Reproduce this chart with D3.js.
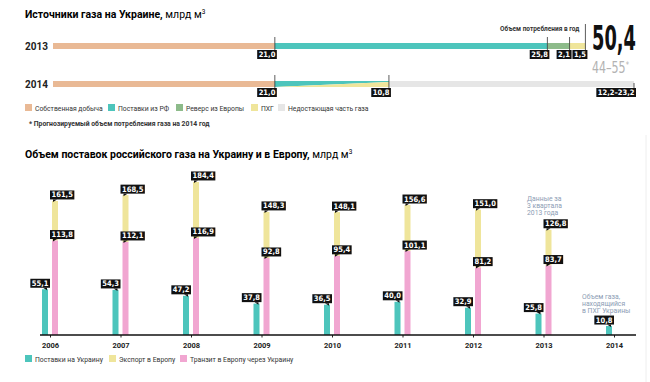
<!DOCTYPE html>
<html lang="ru">
<head>
<meta charset="utf-8">
<title>Газ Украины</title>
<script src="https://d3js.org/d3.v7.min.js"></script>
<style>
  body { margin: 0; background: #fff; }
  svg { display: block; font-family: Roboto, "Noto Sans", sans-serif; }
  .flag text { font-family: "DejaVu Sans Condensed", "DejaVu Sans", sans-serif; font-weight: bold; font-size: 7.5px; fill: #fff; }
</style>
</head>
<body>
<div id="chart"></div>
<script>
// ---- data: top chart (sources of gas, bcm)
const sourceLabels = ["Собственная добыча", "Поставки из РФ", "Реверс из Европы", "ПХГ", "Недостающая часть газа"];
const sources2013 = [21.0, 25.8, 2.1, 1.5];          // own, RF, reverse, storage
const own2014 = 21.0;
const rfStorage2014 = 10.8;                          // RF + storage wedge
const missing2014 = [12.2, 23.2];                    // missing part, range
const consumption2013 = 50.4;
const forecast2014 = [44, 55];

// ---- data: bottom chart (Russian gas supplies, bcm)
const years = [2006, 2007, 2008, 2009, 2010, 2011, 2012, 2013, 2014];
const toUkraine = [55.1, 54.3, 47.2, 37.8, 36.5, 40.0, 32.9, 25.8, 10.8];
const transit = [113.8, 112.1, 116.9, 92.8, 95.4, 101.1, 81.2, 83.7, null];
const exportEU = [161.5, 168.5, 184.4, 148.3, 148.1, 156.6, 151.0, 126.8, null];
const bottomLabels = ["Поставки на Украину", "Экспорт в Европу", "Транзит в Европу через Украину"];

// colours
const cOwn = "#e9b995", cTeal = "#4dc5bc", cGreen = "#8dbb8a", cYellow = "#efe59b",
      cGrey = "#e6e6e6", cPink = "#f1a6d1";

const width = 650, height = 382;
const fmt = v => d3.format(".1f")(v).replace(".", ",");

const svg = d3.select("#chart").append("svg")
  .attr("width", width).attr("height", height);

// faint right border
svg.append("line").attr("x1", 646).attr("x2", 646).attr("y1", 135).attr("y2", 382)
  .attr("stroke", "#eee");

// flag label: black box with white number
function flag(x, y, text, mode) {
  const g = svg.append("g").attr("class", "flag");
  const t = g.append("text").attr("text-anchor", "middle").text(text);
  const w = t.node().getComputedTextLength() + 3;
  const h = 9;
  let left, top;
  if (mode === "topRight") { left = x - w + 2; top = y; }
  else if (mode === "barLeft") { left = x - 2; top = y - h - 1.5; }
  else { left = x - w + 2; top = y - h - 1.5; }
  g.insert("rect", "text").attr("x", left).attr("y", top).attr("width", w).attr("height", h)
    .attr("fill", "#111");
  if (mode === "barLeft") {
    g.insert("path", "text").attr("d", `M${left + 3},${top + h} l4,0 l-4,2.5 z`).attr("fill", "#111");
  } else if (mode === "barRight") {
    g.insert("path", "text").attr("d", `M${left + w - 3},${top + h} l-4,0 l4,2.5 z`).attr("fill", "#111");
  }
  t.attr("x", left + w / 2).attr("y", top + 7);
}

// condensed big number: draw, measure, squeeze to a given width
function squeezed(x, y, size, fill, targetW, build) {
  const t = svg.append("text").attr("font-family", "'DejaVu Sans Condensed', 'DejaVu Sans', sans-serif")
    .attr("font-size", size).attr("fill", fill);
  build(t);
  const w = t.node().getComputedTextLength();
  t.attr("transform", `translate(${x},${y}) scale(${targetW / w},1)`);
  return t;
}

// ================= top chart =================
svg.append("text").attr("x", 25).attr("y", 18).attr("font-size", 10.5)
  .call(t => t.append("tspan").attr("font-weight", "bold").text("Источники газа на Украине, "))
  .call(t => t.append("tspan").text("млрд м"))
  .call(t => t.append("tspan").attr("font-size", 6.5).attr("dy", -4).text("3"));

const x = d3.scaleLinear().domain([0, 55]).range([53, 634]);
const barH = 6;
const rowY = { 2013: 43, 2014: 81 };

[2013, 2014].forEach(yr => {
  svg.append("text").attr("x", 25).attr("y", rowY[yr] + 7)
    .attr("font-size", 10).attr("font-weight", "bold").attr("fill", "#222").text(yr);
});

// 2013 stacked segments
const col2013 = [cOwn, cTeal, cGreen, cYellow];
const cum2013 = d3.cumsum(sources2013);
sources2013.forEach((v, i) => {
  const s = i ? cum2013[i - 1] : 0;
  svg.append("rect").attr("x", x(s)).attr("y", rowY[2013])
    .attr("width", x(cum2013[i]) - x(s)).attr("height", barH).attr("fill", col2013[i]);
});
sources2013.forEach((v, i) => {
  const xx = x(cum2013[i]);
  const top = i === sources2013.length - 1 ? 24 : rowY[2013] - 6;
  svg.append("line").attr("x1", xx).attr("x2", xx).attr("y1", top).attr("y2", rowY[2013] + barH + 1)
    .attr("stroke", "#333").attr("stroke-width", 0.8);
  flag(xx, rowY[2013] + barH + 1, fmt(v), "topRight");
});

svg.append("text").attr("x", x(consumption2013) - 6).attr("y", 31)
  .attr("text-anchor", "end").attr("font-size", 6.5).attr("font-weight", "bold").attr("fill", "#333")
  .text("Объем потребления в год");

squeezed(592, 50, 34, "#111", 44, t => t.attr("font-weight", "bold").text(fmt(consumption2013)));
squeezed(592, 73, 15, "#b3b3b3", 37, t => {
  t.append("tspan").text(forecast2014.join("–"));
  t.append("tspan").attr("font-size", 9).attr("dy", -5).text("*");
});

// 2014 row
const y14 = rowY[2014];
const x21 = x(own2014), x32 = x(own2014 + rfStorage2014), xEnd = x(own2014 + rfStorage2014 + missing2014[1]);
svg.append("rect").attr("x", x(0)).attr("y", y14).attr("width", x21 - x(0)).attr("height", barH).attr("fill", cOwn);
svg.append("rect").attr("x", x32).attr("y", y14).attr("width", xEnd - x32).attr("height", barH).attr("fill", cGrey);
svg.append("path").attr("d", `M${x21},${y14} L${x32},${y14} L${x32},${y14 + 1} L${x21},${y14 + barH} Z`).attr("fill", cTeal);
svg.append("path").attr("d", `M${x21},${y14 + barH} L${x32},${y14 + 1} L${x32},${y14 + barH} Z`).attr("fill", cYellow);
[[x21, fmt(own2014)], [x32, fmt(rfStorage2014)], [xEnd, missing2014.map(fmt).join("–")]].forEach(([xx, lab], i) => {
  svg.append("line").attr("x1", xx).attr("x2", xx).attr("y1", i < 2 ? y14 - 6 : y14 + 2).attr("y2", y14 + barH + 1)
    .attr("stroke", "#333").attr("stroke-width", 0.8);
  flag(xx, y14 + barH + 1, lab, "topRight");
});

// top legend
const legendTop = [[cOwn, 25], [cTeal, 108], [cGreen, 176], [cYellow, 251], [cGrey, 278]];
legendTop.forEach(([c, lx], i) => {
  svg.append("rect").attr("x", lx).attr("y", 104).attr("width", 7).attr("height", 7).attr("fill", c);
  svg.append("text").attr("x", lx + 10).attr("y", 110.5).attr("font-size", 6.8).attr("fill", "#333")
    .text(sourceLabels[i]);
});
svg.append("text").attr("x", 29).attr("y", 126).attr("font-size", 6.8).attr("font-weight", "bold").attr("fill", "#333")
  .text("* Прогнозируемый объем потребления газа на 2014 год");

// ================= bottom chart =================
svg.append("text").attr("x", 25).attr("y", 158).attr("font-size", 10.5)
  .call(t => t.append("tspan").attr("font-weight", "bold").text("Объем поставок российского газа на Украину и в Европу, "))
  .call(t => t.append("tspan").text("млрд м"))
  .call(t => t.append("tspan").attr("font-size", 6.5).attr("dy", -4).text("3"));

const xb = d3.scalePoint().domain(years).range([50, 614]);
const yb = d3.scaleLinear().domain([0, 200]).range([335, 169]);
const bw = 6;

years.forEach((yr, i) => {
  const cx = xb(yr);
  // teal: supplies to Ukraine
  svg.append("rect").attr("x", cx - 5 - bw / 2).attr("y", yb(toUkraine[i]))
    .attr("width", bw).attr("height", yb(0) - yb(toUkraine[i])).attr("fill", cTeal);
  if (exportEU[i] != null) {
    svg.append("rect").attr("x", cx + 5 - bw / 2).attr("y", yb(exportEU[i]))
      .attr("width", bw).attr("height", yb(transit[i]) - yb(exportEU[i])).attr("fill", cYellow);
    svg.append("rect").attr("x", cx + 5 - bw / 2).attr("y", yb(transit[i]))
      .attr("width", bw).attr("height", yb(0) - yb(transit[i])).attr("fill", cPink);
  }
});
years.forEach((yr, i) => {
  const cx = xb(yr);
  flag(cx - 5 + bw / 2, yb(toUkraine[i]), fmt(toUkraine[i]), "barRight");
  if (exportEU[i] != null) {
    flag(cx + 5 - bw / 2, yb(exportEU[i]), fmt(exportEU[i]), "barLeft");
    flag(cx + 5 - bw / 2, yb(transit[i]), fmt(transit[i]), "barLeft");
  }
});

// axis
const axis = svg.append("g").attr("transform", `translate(0,${yb(0)})`)
  .call(d3.axisBottom(xb).tickSize(2.5).tickPadding(5).tickFormat(d => d));
axis.select(".domain").remove();
axis.selectAll("text").attr("font-family", "Roboto, sans-serif").attr("font-size", 7.5)
  .attr("font-weight", "bold").attr("fill", "#222");
axis.selectAll("line").attr("stroke", "#222");
svg.append("line").attr("x1", 40).attr("x2", 636).attr("y1", yb(0)).attr("y2", yb(0))
  .attr("stroke", "#111").attr("stroke-width", 1.5);

// annotations
const note = "#8c9cb4";
["Данные за", "3 квартала", "2013 года"].forEach((s, i) => {
  svg.append("text").attr("x", 527).attr("y", 201 + i * 7.2).attr("font-size", 6.8).attr("fill", note).text(s);
});
["Объем газа,", "находящийся", "в ПХГ Украины"].forEach((s, i) => {
  svg.append("text").attr("x", 582).attr("y", 298.5 + i * 7.2).attr("font-size", 6.8).attr("fill", note).text(s);
});

// bottom legend
const legendBottom = [[cTeal, 25], [cYellow, 109], [cPink, 180]];
legendBottom.forEach(([c, lx], i) => {
  svg.append("rect").attr("x", lx).attr("y", 355).attr("width", 7).attr("height", 7).attr("fill", c);
  svg.append("text").attr("x", lx + 10).attr("y", 361.5).attr("font-size", 6.8).attr("fill", "#333")
    .text(bottomLabels[i]);
});
</script>
</body>
</html>
